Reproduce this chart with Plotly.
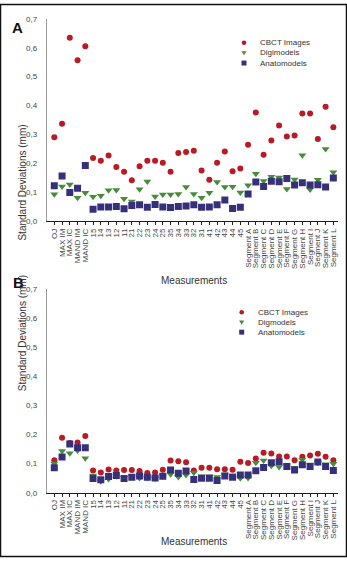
import plotly.graph_objects as go

W, H = 347, 562

categories = ["OJ", "MAX IM", "MAX IC", "MAND IM", "MAND IC",
              "15", "14", "13", "12", "11", "21", "22", "23", "24", "25",
              "35", "34", "33", "32", "31", "41", "42", "43", "44", "45",
              "Segment A", "Segment B", "Segment C", "Segment D", "Segment E", "Segment F",
              "Segment G", "Segment H", "Segment I", "Segment J", "Segment K", "Segment L"]

# Panel A
cbct_a = [0.291, 0.337, 0.634, 0.557, 0.605,
          0.219, 0.210, 0.228, 0.188, 0.172, 0.142, 0.191, 0.210, 0.210, 0.203,
          0.172, 0.236, 0.240, 0.244, 0.176, 0.144, 0.203, 0.242, 0.173, 0.183,
          0.265, 0.376, 0.230, 0.280, 0.331, 0.293, 0.297, 0.373, 0.373, 0.285, 0.396, 0.325]
digi_a = [0.094, 0.121, 0.128, 0.082, 0.099,
          0.085, 0.089, 0.108, 0.109, 0.078, 0.069, 0.111, 0.138, 0.086, 0.093,
          0.093, 0.095, 0.119, 0.095, 0.082, 0.099, 0.136, 0.119, 0.120, 0.100,
          0.125, 0.165, 0.140, 0.154, 0.152, 0.112, 0.145, 0.229, 0.110, 0.144, 0.250, 0.170]
anato_a = [0.123, 0.157, 0.100, 0.115, 0.193,
           0.042, 0.050, 0.050, 0.052, 0.044, 0.055, 0.058, 0.049, 0.059, 0.050,
           0.048, 0.052, 0.053, 0.058, 0.049, 0.050, 0.058, 0.074, 0.045, 0.049,
           0.095, 0.136, 0.121, 0.139, 0.137, 0.148, 0.126, 0.134, 0.126, 0.127, 0.119, 0.150]

# Panel B
cbct_b = [0.112, 0.189, 0.171, 0.173, 0.195,
          0.077, 0.070, 0.080, 0.077, 0.078, 0.078, 0.075, 0.068, 0.070, 0.079,
          0.111, 0.108, 0.105, 0.077, 0.086, 0.086, 0.081, 0.081, 0.079, 0.107,
          0.102, 0.118, 0.138, 0.135, 0.125, 0.125, 0.112, 0.124, 0.128, 0.134, 0.124, 0.112]
digi_b = [0.101, 0.144, 0.136, 0.145, 0.119,
          0.059, 0.040, 0.047, 0.057, 0.052, 0.057, 0.051, 0.051, 0.049, 0.057,
          0.064, 0.054, 0.061, 0.069, 0.057, 0.057, 0.054, 0.063, 0.059, 0.050,
          0.051, 0.103, 0.111, 0.093, 0.089, 0.094, 0.086, 0.114, 0.097, 0.103, 0.098, 0.100]
anato_b = [0.086, 0.123, 0.168, 0.155, 0.155,
           0.049, 0.045, 0.056, 0.059, 0.049, 0.053, 0.058, 0.053, 0.051, 0.057,
           0.078, 0.067, 0.075, 0.046, 0.050, 0.050, 0.042, 0.058, 0.053, 0.061,
           0.061, 0.076, 0.087, 0.103, 0.107, 0.090, 0.078, 0.096, 0.090, 0.106, 0.090, 0.077]

y_ticks = [0.0, 0.1, 0.2, 0.3, 0.4, 0.5, 0.6, 0.7]

RED = "#BA1A24"
GREEN = "#468C3A"
NAVY = "#353079"
FONT = "Arial, Liberation Sans, sans-serif"

def px(x):
    return x / W

def py(y):
    return 1 - y / H

fig = go.Figure()

series = [
    ("CBCT Images", dict(symbol="circle", size=6, color=RED), cbct_a, cbct_b),
    ("Digimodels", dict(symbol="triangle-down", size=7, color=GREEN), digi_a, digi_b),
    ("Anatomodels", dict(symbol="square", size=7, color=NAVY), anato_a, anato_b),
]
for name, mk, va, vb in series:
    fig.add_trace(go.Scatter(x=categories, y=va, mode="markers", name=name,
                             marker=dict(line=dict(width=0), **mk),
                             xaxis="x", yaxis="y", showlegend=False))
    fig.add_trace(go.Scatter(x=categories, y=vb, mode="markers", name=name,
                             marker=dict(line=dict(width=0), **mk),
                             xaxis="x2", yaxis="y2", showlegend=False))

xdom = [px(46.7), px(338)]
xcommon = dict(type="category", categoryorder="array", categoryarray=categories,
               tickmode="array", tickvals=categories, ticktext=categories,
               range=[-0.98, 36.6], domain=xdom, showline=True, linecolor="#222",
               linewidth=1, ticks="outside", ticklen=3, tickcolor="#222",
               tickangle=-90, tickfont=dict(family=FONT, size=8, color="#444"),
               showgrid=False, zeroline=False, fixedrange=True)
ycommon = dict(range=[0, 0.7], tickvals=y_ticks, tickformat=".1f",
               showline=True, linecolor="#999", linewidth=1, ticks="",
               ticklabelstandoff=7, tickfont=dict(family=FONT, size=8, color="#444"),
               showgrid=False, zeroline=False, fixedrange=True)

fig.update_layout(
    width=W, height=H, autosize=False,
    margin=dict(l=0, r=0, t=0, b=0),
    paper_bgcolor="white", plot_bgcolor="white",
    separators=",.",
    showlegend=False,
    xaxis=dict(anchor="y", **xcommon),
    yaxis=dict(anchor="x", domain=[py(221), py(15)], **ycommon),
    xaxis2=dict(anchor="y2", **xcommon),
    yaxis2=dict(anchor="x2", domain=[py(496.7), py(290)], **ycommon),
)

ann = []
# panel labels
ann.append(dict(text="<b>A</b>", x=px(10), y=py(13), xref="paper", yref="paper",
                showarrow=False, font=dict(family=FONT, size=15, color="#111")))
ann.append(dict(text="<b>B</b>", x=px(10.5), y=py(283), xref="paper", yref="paper",
                showarrow=False, font=dict(family=FONT, size=15, color="#111")))
# axis titles
for yc in (121, 396):
    ann.append(dict(text="Standard Deviations (mm)", x=px(15), y=py(yc), xref="paper",
                    yref="paper", textangle=-90, showarrow=False,
                    font=dict(family=FONT, size=10, color="#333")))
for yc in (281, 553.5):
    ann.append(dict(text="Measurements", x=px(194), y=py(yc), xref="paper", yref="paper",
                    showarrow=False, font=dict(family=FONT, size=10, color="#333")))

shapes = []
# legends
legend_specs = [
    (244, 257.7, [39.3, 49.7, 60], ["CBCT Images", "Digimodels", "Anatomodels"]),
    (241.7, 256, [313.3, 323.5, 333.5], ["CBCT Images", "Digmodels", "Anatomodels"]),
]
for mx, tx, rows, labels in legend_specs:
    for (yy, lab, col) in zip(rows, labels, [RED, GREEN, NAVY]):
        ann.append(dict(text=lab, x=px(tx), y=py(yy), xref="paper", yref="paper",
                        xanchor="left", yanchor="middle", showarrow=False,
                        font=dict(family=FONT, size=8, color="#333")))
    r = 2.3
    shapes.append(dict(type="circle", xref="paper", yref="paper",
                       x0=px(mx - r), x1=px(mx + r), y0=py(rows[0] + r), y1=py(rows[0] - r),
                       fillcolor=RED, line=dict(width=0)))
    t = 2.6
    yc = rows[1]
    shapes.append(dict(type="path", xref="paper", yref="paper",
                       path=f"M {px(mx - t)} {py(yc - 1.8)} L {px(mx + t)} {py(yc - 1.8)} L {px(mx)} {py(yc + 2.4)} Z",
                       fillcolor=GREEN, line=dict(width=0)))
    s = 2.5
    yc = rows[2]
    shapes.append(dict(type="rect", xref="paper", yref="paper",
                       x0=px(mx - s), x1=px(mx + s), y0=py(yc + s), y1=py(yc - s),
                       fillcolor=NAVY, line=dict(width=0)))

# outer border
shapes.append(dict(type="rect", xref="paper", yref="paper", x0=px(0.5), x1=px(346.5),
                   y0=py(561.5), y1=py(0.5), line=dict(color="#111", width=1.5),
                   fillcolor="rgba(0,0,0,0)"))

fig.update_layout(annotations=ann, shapes=shapes)
fig.write_html("out.html")
